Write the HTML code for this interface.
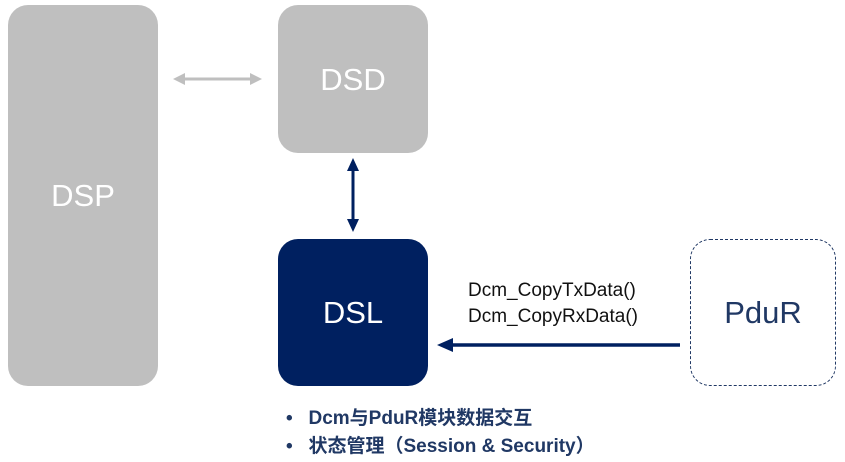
<!DOCTYPE html>
<html><head><meta charset="utf-8"><style>
body{margin:0;width:845px;height:462px;background:#fff;position:relative;overflow:hidden;font-family:"Liberation Sans","Noto Sans CJK SC",sans-serif}
.b{position:absolute;border-radius:20px;display:flex;align-items:center;justify-content:center;font-size:31px;color:#fff}
.t{position:absolute;white-space:nowrap}
</style></head><body>
<div class="b" style="left:8px;top:5px;width:150px;height:381px;background:#bfbfbf">DSP</div>
<div class="b" style="left:278px;top:5px;width:150px;height:148px;background:#bfbfbf;align-items:flex-start;padding-top:0"><span style="margin-top:57px">DSD</span></div>
<div class="b" style="left:278px;top:239px;width:150px;height:147px;background:#002060">DSL</div>
<div class="b" style="left:690px;top:239px;width:144px;height:145px;border:1.5px dashed #203864;color:#203864;background:#fff">PduR</div>
<svg width="845" height="462" style="position:absolute;left:0;top:0">
<line x1="183" y1="79" x2="252" y2="79" stroke="#bfbfbf" stroke-width="3"/>
<polygon points="173,79 185,73 185,85" fill="#bfbfbf"/>
<polygon points="262,79 250,73 250,85" fill="#bfbfbf"/>
<line x1="353" y1="168" x2="353" y2="222" stroke="#002060" stroke-width="3"/>
<polygon points="353,158 347,171 359,171" fill="#002060"/>
<polygon points="353,232 347,219 359,219" fill="#002060"/>
<line x1="450" y1="345" x2="680" y2="345" stroke="#002060" stroke-width="3.5"/>
<polygon points="437,345 453,338 453,352" fill="#002060"/>
</svg>
<div class="t" style="left:468px;top:278px;font-size:19px;color:#111;line-height:26px">Dcm_CopyTxData()<br>Dcm_CopyRxData()</div>
<div class="t" style="left:286px;top:405px;font-size:19px;font-weight:bold;color:#203864;line-height:28px">•&nbsp;&nbsp;&nbsp;Dcm与PduR模块数据交互<br>•&nbsp;&nbsp;&nbsp;状态管理（Session &amp; Security）</div>
</body></html>
